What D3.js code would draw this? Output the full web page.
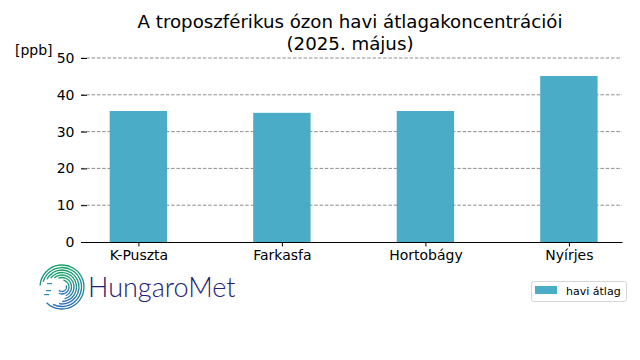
<!DOCTYPE html>
<html>
<head>
<meta charset="utf-8">
<script src="https://cdn.jsdelivr.net/npm/d3@7"></script>
<style>
  body { margin: 0; background: #fff; }
  text { font-family: "DejaVu Sans", sans-serif; }
</style>
</head>
<body>
<svg id="chart" width="640" height="360"></svg>
<script>
const stations = ["K-Puszta", "Farkasfa", "Hortobágy", "Nyírjes"];
const monthlyMean = [35.6, 35.1, 35.6, 45.1];
const yTicks = [0, 10, 20, 30, 40, 50];
const titleLines = ["A troposzférikus ózon havi átlagakoncentrációi", "(2025. május)"];

const width = 640, height = 360;
const svg = d3.select("#chart");

const x = d3.scaleLinear().domain([-0.4, 3.37]).range([81, 622]);
const y = d3.scaleLinear().domain([0, 50]).range([242, 58]);
const barW = x(0.4) - x(0);

// grid
svg.append("g")
  .selectAll("line")
  .data(yTicks.filter(d => d > 0))
  .enter().append("line")
  .attr("x1", x(-0.4)).attr("x2", x(3.37))
  .attr("y1", d => y(d)).attr("y2", d => y(d))
  .attr("stroke", "#808080")
  .attr("stroke-width", 0.9)
  .attr("stroke-dasharray", "3.5,1.8");

// bars
svg.append("g")
  .selectAll("rect")
  .data(monthlyMean)
  .enter().append("rect")
  .attr("x", (d, i) => x(i) - barW / 2)
  .attr("width", barW)
  .attr("y", d => y(d))
  .attr("height", d => y(0) - y(d))
  .attr("fill", "#4aacc6");

// y axis (no spine, ticks point inward)
const yAxis = svg.append("g")
  .attr("transform", `translate(${x(-0.4)},0)`)
  .call(d3.axisLeft(y).tickValues(yTicks).tickSize(-6).tickPadding(6.5));
yAxis.select(".domain").remove();
yAxis.selectAll("text").style("font-size", "14px").attr("font-family", "DejaVu Sans");

// x axis
const xAxis = svg.append("g")
  .attr("transform", `translate(0,${y(0)})`)
  .call(d3.axisBottom(x).tickValues(d3.range(stations.length)).tickFormat(i => stations[i]).tickSize(4.5).tickPadding(4).tickSizeOuter(0));
xAxis.select(".domain").attr("stroke-width", 1);
xAxis.selectAll("text").style("font-size", "14px").attr("font-family", "DejaVu Sans");

// unit label
svg.append("text")
  .attr("x", 15).attr("y", 55)
  .style("font-size", "14px")
  .text("[ppb]");

// title
svg.append("text")
  .attr("x", 350).attr("y", 28)
  .attr("text-anchor", "middle")
  .style("font-size", "18.2px")
  .selectAll("tspan")
  .data(titleLines)
  .enter().append("tspan")
  .attr("x", 350)
  .attr("dy", (d, i) => i ? "1.2em" : 0)
  .text(d => d);

// legend
const lg = svg.append("g");
lg.append("rect")
  .attr("x", 531.5).attr("y", 281.5).attr("width", 95).attr("height", 20)
  .attr("rx", 2).attr("fill", "#fff").attr("stroke", "#d6d6d6");
lg.append("rect")
  .attr("x", 535).attr("y", 286).attr("width", 22).attr("height", 8)
  .attr("fill", "#4aacc6");
lg.append("text")
  .attr("x", 566).attr("y", 295)
  .style("font-size", "11px")
  .text("havi átlag");

// logo: spiral of concentric arcs, open on the left
const logo = svg.append("g").attr("transform", "translate(62,287)");
const spiralColor = d3.scaleLinear().domain([-1, 1]).range(["#15a06a", "#2a6fb8"]);
const rings = [
  [22, -1.5, 3.9], [19.5, -1.3, 3.6], [17, -1.1, 3.3], [14.5, -0.9, 3.1],
  [12, -0.7, 2.9], [9.5, -0.4, 2.7], [7, 0.2, 3.6], [4.5, 1.2, 3.9]
];
const arcGen = d3.arc();
rings.forEach(r => {
  const segs = 8;
  for (let s = 0; s < segs; s++) {
    const s0 = r[1] + (r[2] - r[1]) * s / segs, s1 = r[1] + (r[2] - r[1]) * (s + 1) / segs;
    const mid = (s0 + s1) / 2;
    logo.append("path")
      .attr("d", arcGen({ innerRadius: r[0] - 0.65, outerRadius: r[0] + 0.65, startAngle: s0, endAngle: s1 + 0.02 }))
      .attr("fill", spiralColor(-Math.cos(mid)));
  }
});
// short stubs on the left side
[[-16, 3], [-18, 7], [-15, -4]].forEach(p => {
  logo.append("rect").attr("x", p[0]).attr("y", p[1]).attr("width", 5).attr("height", 1.2).attr("fill", "#2a8fb0");
});
svg.append("text")
  .attr("x", 88).attr("y", 297)
  .style("font-family", "Lato, 'Noto Sans', sans-serif")
  .style("font-weight", 300)
  .style("font-size", "27px")
  .attr("fill", "#1f2270")
  .text("HungaroMet");
</script>
</body>
</html>
